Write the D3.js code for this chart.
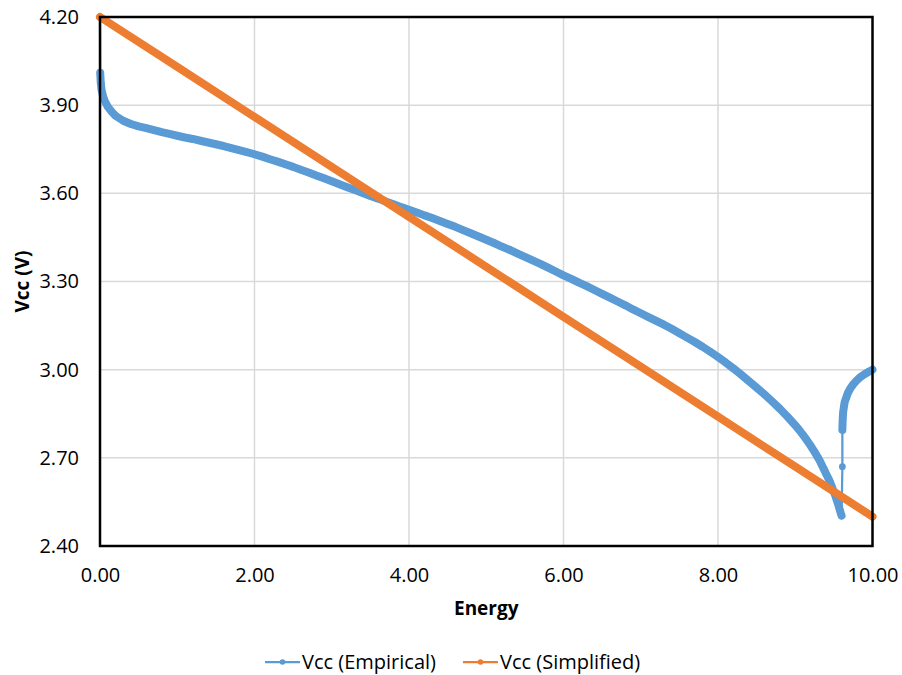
<!DOCTYPE html>
<html>
<head>
<meta charset="utf-8">
<script src="https://cdn.jsdelivr.net/npm/d3@7/dist/d3.min.js"></script>
<style>
  body { margin: 0; background: #fff; }
  text { font-family: "Open Sans", "Liberation Sans", sans-serif; }
</style>
</head>
<body>
<div id="chart"></div>
<script>
//------------------------------------------------------------------------ Data
// Vcc (Empirical) : energy / voltage pairs
var energyEmp = [
  0.000, 0.003, 0.010, 0.020, 0.040, 0.060, 0.100, 0.150, 0.200, 0.300,
  0.400, 0.500, 0.600, 0.700, 0.800, 0.900, 1.000, 1.100, 1.200, 1.300,
  1.400, 1.500, 1.600, 1.700, 1.800, 1.900, 2.000, 2.100, 2.200, 2.300,
  2.400, 2.500, 2.600, 2.700, 2.800, 2.900, 3.000, 3.100, 3.200, 3.300,
  3.400, 3.500, 3.600, 3.700, 3.800, 3.900, 4.000, 4.100, 4.200, 4.300,
  4.400, 4.500, 4.600, 4.700, 4.800, 4.900, 5.000, 5.100, 5.200, 5.300,
  5.400, 5.500, 5.600, 5.700, 5.800, 5.900, 6.000, 6.100, 6.200, 6.300,
  6.400, 6.500, 6.600, 6.700, 6.800, 6.900, 7.000, 7.100, 7.200, 7.300,
  7.400, 7.500, 7.600, 7.700, 7.800, 7.900, 8.000, 8.100, 8.200, 8.300,
  8.400, 8.500, 8.600, 8.700, 8.800, 8.900, 9.000, 9.050, 9.100, 9.150,
  9.200, 9.250, 9.300, 9.325, 9.350, 9.375, 9.400, 9.425, 9.450, 9.475,
  9.500, 9.525, 9.550, 9.565, 9.580, 9.590, 9.600,
  9.610, 9.610, 9.612, 9.615, 9.620, 9.630, 9.640, 9.660, 9.680, 9.710,
  9.750, 9.790, 9.840, 9.900, 9.950, 10.000
];
var vccEmp = [
  4.200, 4.010, 3.975, 3.952, 3.930, 3.915, 3.895, 3.878, 3.864, 3.847,
  3.836, 3.828, 3.822, 3.815, 3.808, 3.802, 3.796, 3.790, 3.785, 3.779,
  3.773, 3.767, 3.761, 3.754, 3.747, 3.740, 3.733, 3.725, 3.716, 3.708,
  3.699, 3.690, 3.680, 3.671, 3.661, 3.651, 3.641, 3.631, 3.621, 3.611,
  3.601, 3.591, 3.582, 3.572, 3.563, 3.553, 3.544, 3.535, 3.525, 3.516,
  3.506, 3.496, 3.486, 3.475, 3.464, 3.453, 3.442, 3.431, 3.419, 3.408,
  3.396, 3.384, 3.372, 3.360, 3.347, 3.334, 3.321, 3.309, 3.296, 3.284,
  3.271, 3.258, 3.245, 3.232, 3.219, 3.205, 3.192, 3.179, 3.166, 3.153,
  3.139, 3.124, 3.109, 3.094, 3.078, 3.061, 3.043, 3.024, 3.004, 2.983,
  2.961, 2.939, 2.916, 2.892, 2.867, 2.840, 2.811, 2.795, 2.778, 2.760,
  2.741, 2.720, 2.698, 2.686, 2.672, 2.659, 2.645, 2.632, 2.618, 2.601,
  2.584, 2.566, 2.546, 2.533, 2.520, 2.511, 2.503,
  2.670, 2.795, 2.815, 2.835, 2.855, 2.874, 2.890, 2.905, 2.920, 2.935,
  2.950, 2.962, 2.974, 2.985, 2.993, 3.000
];

// Vcc (Simplified)
var energySimp = [0, 1, 2, 3, 4, 5, 6, 7, 8, 9, 10];
var vccSimp = [4.20, 4.03, 3.86, 3.69, 3.52, 3.35, 3.18, 3.01, 2.84, 2.67, 2.50];

var seriesNames = ["Vcc (Empirical)", "Vcc (Simplified)"];
var seriesColors = ["#5b9bd5", "#ed7d31"];

var xTicks = [0, 2, 4, 6, 8, 10];
var yTicks = [2.4, 2.7, 3.0, 3.3, 3.6, 3.9, 4.2];

//------------------------------------------------------------------------ Layout
var W = 902, H = 675;
var margin = {top: 17, right: 29.5, bottom: 129, left: 100},
    width = W - margin.left - margin.right,
    height = H - margin.top - margin.bottom;

var svg = d3.select("#chart").append("svg")
  .attr("width", W)
  .attr("height", H);

var g = svg.append("g")
  .attr("transform", "translate(" + margin.left + "," + margin.top + ")");

var x = d3.scaleLinear().domain([0, 10]).range([0, width]);
var y = d3.scaleLinear().domain([2.4, 4.2]).range([height, 0]);

//------------------------------------------------------------------------ Grid
g.append("g")
  .selectAll("line.h")
  .data(yTicks.slice(1, -1))
  .enter().append("line")
  .attr("x1", 0).attr("x2", width)
  .attr("y1", function(d){ return y(d); })
  .attr("y2", function(d){ return y(d); })
  .attr("stroke", "#d9d9d9").attr("stroke-width", 1.5);

g.append("g")
  .selectAll("line.v")
  .data(xTicks.slice(1, -1))
  .enter().append("line")
  .attr("y1", 0).attr("y2", height)
  .attr("x1", function(d){ return x(d); })
  .attr("x2", function(d){ return x(d); })
  .attr("stroke", "#d9d9d9").attr("stroke-width", 1.5);

//------------------------------------------------------------------------ Axes (labels only)
var xAxis = g.append("g")
  .attr("transform", "translate(0," + height + ")")
  .call(d3.axisBottom(x).tickValues(xTicks).tickFormat(d3.format(".2f")).tickSize(0).tickPadding(22));
xAxis.select(".domain").remove();
xAxis.selectAll("text").attr("font-size", "20px").attr("fill", "#000")
  .style("font-family", "'Open Sans', sans-serif");

var yAxis = g.append("g")
  .call(d3.axisLeft(y).tickValues(yTicks).tickFormat(d3.format(".2f")).tickSize(0).tickPadding(21));
yAxis.select(".domain").remove();
yAxis.selectAll("text").attr("font-size", "20px").attr("fill", "#000")
  .style("font-family", "'Open Sans', sans-serif");

//------------------------------------------------------------------------ Series
function seriesData(xs, ys){
  return xs.map(function(d, i){ return {x: d, y: ys[i]}; });
}
var allSeries = [
  {name: seriesNames[0], color: seriesColors[0], data: seriesData(energyEmp, vccEmp), gap: 14},
  {name: seriesNames[1], color: seriesColors[1], data: seriesData(energySimp, vccSimp), gap: Infinity}
];

var line = d3.line()
  .x(function(d){ return x(d.x); })
  .y(function(d){ return y(d.y); });

// dense markers in the original merge into a thick band; split it where points are far apart
function bandRuns(data, gap){
  var runs = [], cur = [data[0]];
  for (var i = 1; i < data.length; ++i) {
    var dx = x(data[i].x) - x(data[i-1].x), dy = y(data[i].y) - y(data[i-1].y);
    if (Math.sqrt(dx*dx + dy*dy) <= gap) cur.push(data[i]);
    else { runs.push(cur); cur = [data[i]]; }
  }
  runs.push(cur);
  return runs.filter(function(r){ return r.length > 1; });
}

allSeries.forEach(function(s){
  var sg = g.append("g");
  sg.append("path")
    .attr("d", line(s.data))
    .attr("fill", "none")
    .attr("stroke", s.color)
    .attr("stroke-width", 2.25);
  bandRuns(s.data, s.gap).forEach(function(run){
    sg.append("path")
      .attr("d", line(run))
      .attr("fill", "none")
      .attr("stroke", s.color)
      .attr("stroke-width", 8)
      .attr("stroke-linecap", "round")
      .attr("stroke-linejoin", "round");
  });
  sg.selectAll("circle")
    .data(s.data)
    .enter().append("circle")
    .attr("cx", function(d){ return x(d.x); })
    .attr("cy", function(d){ return y(d.y); })
    .attr("r", 3.4)
    .attr("fill", s.color);
});

//------------------------------------------------------------------------ Plot border
g.append("rect")
  .attr("x", 0).attr("y", 0)
  .attr("width", width).attr("height", height)
  .attr("fill", "none")
  .attr("stroke", "#000")
  .attr("stroke-width", 2.5);

//------------------------------------------------------------------------ Titles
svg.append("text")
  .attr("x", margin.left + width/2)
  .attr("y", 615)
  .attr("text-anchor", "middle")
  .attr("font-size", "19px")
  .attr("font-weight", "bold")
  .text("Energy");

svg.append("text")
  .attr("transform", "translate(29," + (margin.top + height/2) + ") rotate(-90)")
  .attr("text-anchor", "middle")
  .attr("font-size", "19px")
  .attr("font-weight", "bold")
  .text("Vcc (V)");

//------------------------------------------------------------------------ Legend
var legendX = [265, 463];
var legend = svg.append("g").attr("transform", "translate(0,662)");
allSeries.forEach(function(s, i){
  var lg = legend.append("g").attr("transform", "translate(" + legendX[i] + ",0)");
  lg.append("line")
    .attr("x1", 0).attr("x2", 35).attr("y1", 0).attr("y2", 0)
    .attr("stroke", s.color).attr("stroke-width", 2.25);
  lg.append("circle")
    .attr("cx", 17.5).attr("cy", 0).attr("r", 2.8)
    .attr("fill", s.color);
  lg.append("text")
    .attr("x", 37).attr("y", 0).attr("dy", "0.35em")
    .attr("font-size", "20px")
    .attr("fill", "#000")
    .text(s.name);
});
</script>
</body>
</html>
